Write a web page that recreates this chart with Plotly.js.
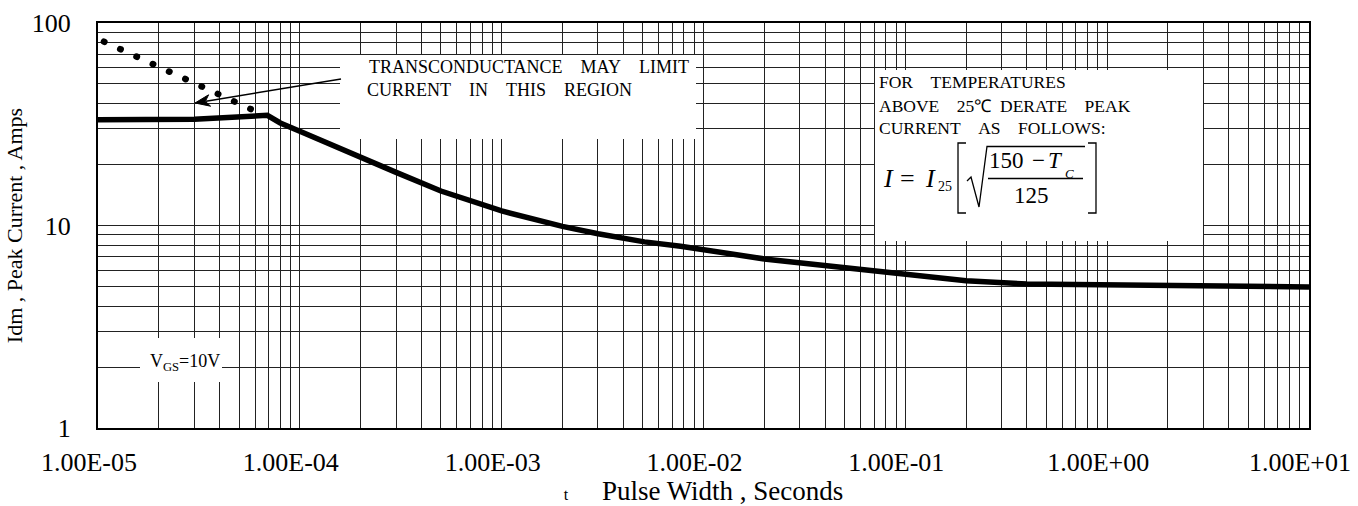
<!DOCTYPE html>
<html>
<head>
<meta charset="utf-8">
<script src="https://cdn.plot.ly/plotly-3.0.1.min.js"></script>
<style>
html,body{margin:0;padding:0;background:#fff;}
#chart{width:1358px;height:506px;}
#chart .scatterlayer .trace:nth-child(2) .js-line{stroke-linecap:round;}
</style>
</head>
<body>
<div id="chart"></div>
<script>
// ---- data ----
const pulseWidth = [1e-5, 3e-5, 6.9e-5, 8.0e-5, 1.0e-4, 2.0e-4, 3.0e-4, 5.0e-4, 1.0e-3, 2.0e-3, 3.0e-3, 5.1e-3, 7.7e-3, 2.0e-2, 7.0e-2, 0.2, 0.4, 1.83, 10];
const peakCurrent = [33.3, 33.5, 35.0, 32.1, 29.2, 21.6, 18.3, 14.8, 11.8, 9.9, 9.1, 8.3, 7.9, 6.84, 5.94, 5.33, 5.14, 5.04, 4.97];
const limitWidth = [1.07e-5, 5.71e-5];
const limitCurrent = [80.9, 37.6];
const xTickVals = [1e-5, 1e-4, 1e-3, 1e-2, 1e-1, 1, 10];
const xTickText = ['1.00E-05', '1.00E-04', '1.00E-03', '1.00E-02', '1.00E-01', '1.00E+00', '1.00E+01'];
const yTickVals = [1, 10, 100];
const yTickText = ['1', '10', '100'];

// ---- layout helpers (pixel -> paper) ----
const L = 98, R = 1309, T = 23, B = 428;
const px = x => (x - L) / (R - L);
const py = y => (B - y) / (B - T);
const path = (pts, close) => pts.map((p, i) => (i ? 'L' : 'M') + px(p[0]).toFixed(5) + ',' + py(p[1]).toFixed(5)).join(' ') + (close ? ' Z' : '');
const FONT = 'Liberation Serif, Times New Roman, serif';
const nb = n => '\u00A0'.repeat(n);

const whiteBox = (x0, y0, x1, y1) => ({type: 'rect', xref: 'paper', yref: 'paper', x0: px(x0), x1: px(x1), y0: py(y1), y1: py(y0), fillcolor: '#ffffff', line: {width: 0}, layer: 'above'});
const pathShape = (pts, w) => ({type: 'path', xref: 'paper', yref: 'paper', path: path(pts), line: {color: '#000', width: w || 1.3}, layer: 'above'});
const txt = (text, x, y, size, opts) => Object.assign({text: text, xref: 'paper', yref: 'paper', x: px(x), y: py(y), xanchor: 'left', yanchor: 'middle', showarrow: false, font: {family: FONT, size: size, color: '#000'}, borderpad: 0}, opts || {});

const traces = [
  {x: pulseWidth, y: peakCurrent, type: 'scatter', mode: 'lines', line: {color: '#000', width: 5.5}, hoverinfo: 'skip'},
  {x: limitWidth, y: limitCurrent, type: 'scatter', mode: 'lines', line: {color: '#000', width: 6.5, dash: '0.5px,17.4px'}, hoverinfo: 'skip'}
];

const gridC = '#222222';
const layout = {
  width: 1358, height: 506,
  margin: {l: L, r: 1358 - R, t: T, b: 506 - B, pad: 0},
  paper_bgcolor: '#fff', plot_bgcolor: '#fff',
  showlegend: false,
  font: {family: FONT, color: '#000'},
  xaxis: {
    type: 'log', range: [-5, 1], automargin: false,
    tickmode: 'array', tickvals: xTickVals, ticktext: xTickText,
    tickfont: {family: FONT, size: 26, color: '#000'},
    ticks: '', ticklabelshift: -9, ticklabelstandoff: 10,
    showgrid: true, gridcolor: gridC, gridwidth: 1,
    minor: {dtick: 'D1', showgrid: true, gridcolor: gridC, gridwidth: 1, ticks: ''},
    showline: true, linecolor: '#000', linewidth: 2, mirror: true, zeroline: false,
    title: {text: nb(8) + '<span style="font-size:16px">t</span>' + nb(5) + 'Pulse Width , Seconds', font: {family: FONT, size: 27, color: '#000'}, standoff: 0}
  },
  yaxis: {
    type: 'log', range: [0, 2], automargin: false,
    tickmode: 'array', tickvals: yTickVals, ticktext: yTickText,
    tickfont: {family: FONT, size: 26, color: '#000'},
    ticks: '', ticklabelstandoff: 20,
    showgrid: true, gridcolor: gridC, gridwidth: 1,
    minor: {dtick: 'D1', showgrid: true, gridcolor: gridC, gridwidth: 1, ticks: ''},
    showline: true, linecolor: '#000', linewidth: 2, mirror: true, zeroline: false,
    title: {text: 'Idm , Peak Current , Amps', font: {family: FONT, size: 22, color: '#000'}, standoff: 3}
  },
  shapes: [
    whiteBox(340, 55, 696, 139),
    whiteBox(875, 70, 1203, 241),
    whiteBox(140, 338, 222, 382),
    // derating formula: brackets, root sign, fraction bar
    pathShape([[966, 143], [958, 143], [958, 213], [966, 213]]),
    pathShape([[1088, 143], [1096, 143], [1096, 213], [1088, 213]]),
    pathShape([[967, 181], [971, 177], [979, 207], [987, 146.5], [1085, 146.5]]),
    pathShape([[988, 178.5], [1083, 178.5]]),
    // arrow pointing at the transconductance-limited region
    pathShape([[341, 79], [206, 101.2]], 1.5),
    {type: 'path', xref: 'paper', yref: 'paper', path: path([[195, 103], [210.6, 106.2], [205.4, 101.3], [208.6, 94.8]], true), fillcolor: '#000', line: {color: '#000', width: 1}, layer: 'above'}
  ],
  annotations: [
    txt('TRANSCONDUCTANCE' + nb(4) + 'MAY' + nb(4) + 'LIMIT', 368, 67, 18),
    txt('CURRENT' + nb(4) + 'IN' + nb(4) + 'THIS' + nb(4) + 'REGION', 366, 90, 18),
    txt('FOR' + nb(4) + 'TEMPERATURES', 878, 82, 17.5),
    txt('ABOVE' + nb(4) + '25\u2103' + nb(2) + 'DERATE' + nb(4) + 'PEAK', 878, 106, 17.5),
    txt('CURRENT' + nb(4) + 'AS' + nb(4) + 'FOLLOWS:', 878, 128, 17.5),
    txt('<i>I</i>', 882, 178, 26),
    txt('=', 908, 178, 26, {xanchor: 'center'}),
    txt('<i>I</i>', 924, 178, 26),
    txt('25', 937, 187, 14),
    txt('150', 988, 160, 23),
    txt('\u2212', 1038, 160, 23, {xanchor: 'center'}),
    txt('<i>T</i>', 1047, 160, 23),
    txt('<i>C</i>', 1064, 173, 13),
    txt('125', 1031, 195, 23, {xanchor: 'center'}),
    txt('V<sub>GS</sub>=10V', 149, 362, 18)
  ]
};

Plotly.newPlot('chart', traces, layout, {staticPlot: true, displayModeBar: false});
</script>
</body>
</html>
